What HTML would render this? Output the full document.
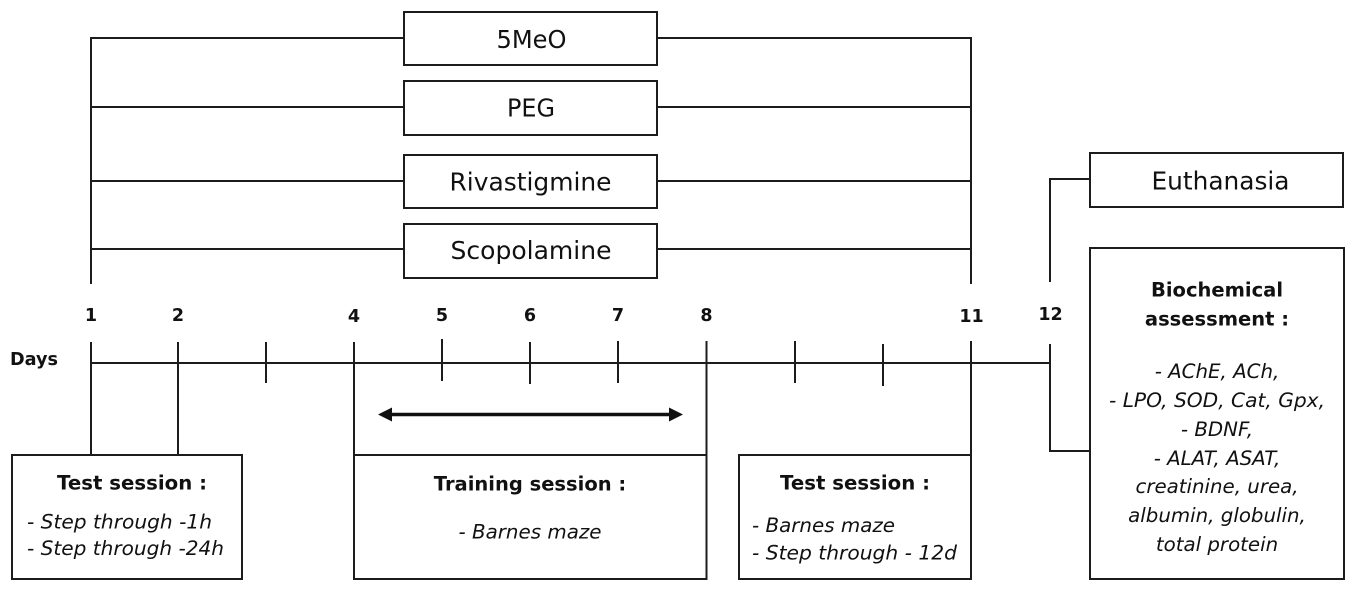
<!DOCTYPE html>
<html>
<head>
<meta charset="utf-8">
<style>
  html, body { margin: 0; padding: 0; background: #ffffff; }
  body { width: 1356px; height: 592px; overflow: hidden; }
  svg { display: block; }
  .ln { stroke: #1c1c1c; stroke-width: 2; fill: none; }
  .bx { stroke: #1c1c1c; stroke-width: 2; fill: #ffffff; }
  .lbl { font-family: "DejaVu Sans", "Liberation Sans", sans-serif; font-size: 24.5px; fill: #111; }
  .day { font-family: "DejaVu Sans", "Liberation Sans", sans-serif; font-size: 17.5px; font-weight: bold; fill: #111; }
  .hd { font-family: "DejaVu Sans", "Liberation Sans", sans-serif; font-size: 19.5px; font-weight: bold; fill: #111; }
  .it { font-family: "DejaVu Sans", "Liberation Sans", sans-serif; font-size: 19.8px; font-style: italic; fill: #111; }
</style>
</head>
<body>
<svg width="1356" height="592" viewBox="0 0 1356 592" xmlns="http://www.w3.org/2000/svg">
  <!-- Top treatment group lines -->
  <line class="ln" x1="91" y1="37" x2="91" y2="284"/>
  <line class="ln" x1="971" y1="37" x2="971" y2="284"/>

  <line class="ln" x1="91" y1="38" x2="404" y2="38"/>
  <line class="ln" x1="657" y1="38" x2="971" y2="38"/>
  <line class="ln" x1="91" y1="107" x2="404" y2="107"/>
  <line class="ln" x1="657" y1="107" x2="971" y2="107"/>
  <line class="ln" x1="91" y1="181" x2="404" y2="181"/>
  <line class="ln" x1="657" y1="181" x2="971" y2="181"/>
  <line class="ln" x1="91" y1="249" x2="404" y2="249"/>
  <line class="ln" x1="657" y1="249" x2="971" y2="249"/>

  <rect class="bx" x="404" y="12" width="253" height="53"/>
  <rect class="bx" x="404" y="81" width="253" height="54"/>
  <rect class="bx" x="404" y="155" width="253" height="53"/>
  <rect class="bx" x="404" y="224" width="253" height="54"/>

  <text class="lbl" x="531.5" y="48" text-anchor="middle" textLength="70" lengthAdjust="spacingAndGlyphs">5MeO</text>
  <text class="lbl" x="531" y="116.5" text-anchor="middle" textLength="48" lengthAdjust="spacingAndGlyphs">PEG</text>
  <text class="lbl" x="530.5" y="190.5" text-anchor="middle" textLength="162" lengthAdjust="spacingAndGlyphs">Rivastigmine</text>
  <text class="lbl" x="531" y="259" text-anchor="middle" textLength="161" lengthAdjust="spacingAndGlyphs">Scopolamine</text>

  <!-- Euthanasia connection -->
  <polyline class="ln" points="1050,282 1050,179 1090,179"/>
  <rect class="bx" x="1090" y="153" width="253" height="54"/>
  <text class="lbl" x="1220.5" y="189.3" text-anchor="middle" textLength="138" lengthAdjust="spacingAndGlyphs">Euthanasia</text>

  <!-- Day labels -->
  <text class="day" x="91" y="321" text-anchor="middle">1</text>
  <text class="day" x="178" y="321" text-anchor="middle">2</text>
  <text class="day" x="354" y="322" text-anchor="middle">4</text>
  <text class="day" x="442" y="321" text-anchor="middle">5</text>
  <text class="day" x="530" y="321" text-anchor="middle">6</text>
  <text class="day" x="618" y="321" text-anchor="middle">7</text>
  <text class="day" x="706.5" y="321" text-anchor="middle">8</text>
  <text class="day" x="971.5" y="322" text-anchor="middle">11</text>
  <text class="day" x="1050.5" y="320" text-anchor="middle">12</text>
  <text class="day" x="10" y="365" font-size="17px" textLength="48" lengthAdjust="spacingAndGlyphs">Days</text>

  <!-- Axis -->
  <line class="ln" x1="91" y1="363" x2="1051" y2="363"/>
  <!-- ticks / verticals -->
  <line class="ln" x1="91" y1="342" x2="91" y2="455"/>
  <line class="ln" x1="178" y1="342" x2="178" y2="455"/>
  <line class="ln" x1="266" y1="342" x2="266" y2="383"/>
  <line class="ln" x1="354" y1="342" x2="354" y2="455"/>
  <line class="ln" x1="442" y1="339" x2="442" y2="381"/>
  <line class="ln" x1="530" y1="342" x2="530" y2="384"/>
  <line class="ln" x1="618" y1="341" x2="618" y2="383"/>
  <line class="ln" x1="706.5" y1="341" x2="706.5" y2="455"/>
  <line class="ln" x1="795" y1="341" x2="795" y2="383"/>
  <line class="ln" x1="883" y1="344" x2="883" y2="386"/>
  <line class="ln" x1="971" y1="341" x2="971" y2="455"/>
  <polyline class="ln" points="1050,344 1050,451 1090,451"/>

  <!-- Arrow -->
  <line x1="388" y1="414.5" x2="673" y2="414.5" stroke="#111" stroke-width="3.5"/>
  <polygon points="378,414.5 392,407.5 392,421.5" fill="#111"/>
  <polygon points="683,414.5 669,407.5 669,421.5" fill="#111"/>

  <!-- Bottom boxes -->
  <rect class="bx" x="12" y="455" width="230" height="124"/>
  <rect class="bx" x="354" y="455" width="352.5" height="124"/>
  <rect class="bx" x="739" y="455" width="232" height="124"/>
  <rect class="bx" x="1090" y="248" width="254" height="331"/>

  <!-- Test session 1 -->
  <text class="hd" x="132" y="489.5" text-anchor="middle" textLength="150" lengthAdjust="spacingAndGlyphs">Test session :</text>
  <text class="it" x="27" y="528.5" textLength="185" lengthAdjust="spacingAndGlyphs">- Step through -1h</text>
  <text class="it" x="27" y="555" textLength="197" lengthAdjust="spacingAndGlyphs">- Step through -24h</text>

  <!-- Training session -->
  <text class="hd" x="530" y="490.5" text-anchor="middle">Training session :</text>
  <text class="it" x="530" y="538.5" text-anchor="middle" textLength="143" lengthAdjust="spacingAndGlyphs">- Barnes maze</text>

  <!-- Test session 2 -->
  <text class="hd" x="855" y="489.5" text-anchor="middle" textLength="150" lengthAdjust="spacingAndGlyphs">Test session :</text>
  <text class="it" x="752" y="532" textLength="143" lengthAdjust="spacingAndGlyphs">- Barnes maze</text>
  <text class="it" x="752" y="559.5" textLength="205" lengthAdjust="spacingAndGlyphs">- Step through - 12d</text>

  <!-- Biochemical -->
  <text class="hd" x="1217" y="296.7" text-anchor="middle" textLength="132" lengthAdjust="spacingAndGlyphs">Biochemical</text>
  <text class="hd" x="1217" y="325.7" text-anchor="middle">assessment :</text>
  <text class="it" x="1217" y="378" text-anchor="middle">- AChE, ACh,</text>
  <text class="it" x="1217" y="407" text-anchor="middle" textLength="216" lengthAdjust="spacingAndGlyphs">- LPO, SOD, Cat, Gpx,</text>
  <text class="it" x="1217" y="436" text-anchor="middle">- BDNF,</text>
  <text class="it" x="1217" y="465" text-anchor="middle">- ALAT, ASAT,</text>
  <text class="it" x="1217" y="493" text-anchor="middle">creatinine, urea,</text>
  <text class="it" x="1217" y="522" text-anchor="middle">albumin, globulin,</text>
  <text class="it" x="1217" y="551" text-anchor="middle">total protein</text>
</svg>
</body>
</html>
